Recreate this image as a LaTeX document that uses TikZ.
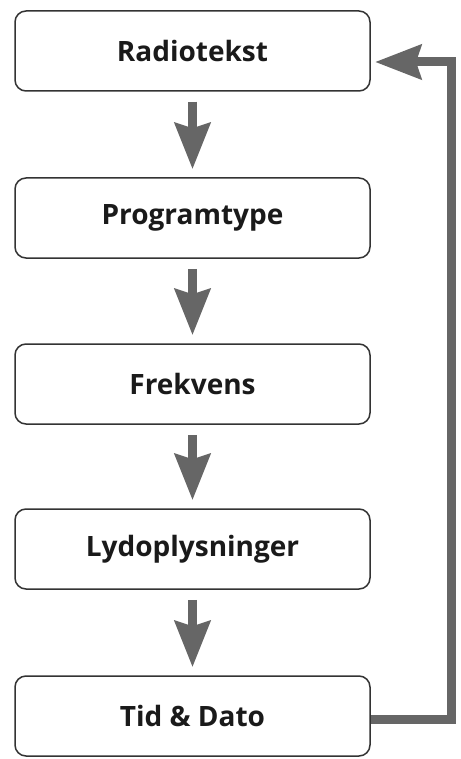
\documentclass[tikz,border=0pt]{standalone}
\usepackage{fontspec}
\setmainfont{Open Sans}
\usetikzlibrary{arrows.meta,calc}
\definecolor{arrowgray}{HTML}{666666}
\definecolor{boxborder}{HTML}{333333}
\definecolor{textcol}{HTML}{1A1A1A}
\begin{document}
\begin{tikzpicture}[x=1pt,y=-1pt,
  stepbox/.style={draw=boxborder, line width=1.5pt, rounded corners=11pt, fill=white, text=textcol,
    minimum width=355pt, minimum height=80pt, font=\fontsize{28}{32}\selectfont\bfseries, inner sep=0pt},
  flow/.style={draw=arrowgray, line width=9pt, -{Stealth[length=46pt,width=35pt,inset=5pt]}},
  back/.style={draw=arrowgray, line width=9pt, -{Stealth[length=46pt,width=34pt,inset=5pt]}}]
\useasboundingbox (0,0) rectangle (460,759);
\node[stepbox] (r) at (192.5,51) {Radiotekst};
\node[stepbox] (p) at (192.5,218) {Programtype};
\node[stepbox] (f) at (192.5,384) {Frekvens};
\node[stepbox] (l) at (192.5,549) {Lydoplysninger};
\node[stepbox] (t) at (192.5,716) {Tid \& Dato};
\draw[flow] ($(r.south)+(0,10)$) -- ($(p.north)+(0,-8)$);
\draw[flow] ($(p.south)+(0,10)$) -- ($(f.north)+(0,-8)$);
\draw[flow] ($(f.south)+(0,10)$) -- ($(l.north)+(0,-8)$);
\draw[flow] ($(l.south)+(0,10)$) -- ($(t.north)+(0,-8)$);
\coordinate (c1) at (451,719);
\coordinate (c2) at (451,62);
\coordinate (c3) at (375,62);
\draw[back] (t.east |- c1) -- (c1) -- (c2) -- (c3);
\end{tikzpicture}
\end{document}
